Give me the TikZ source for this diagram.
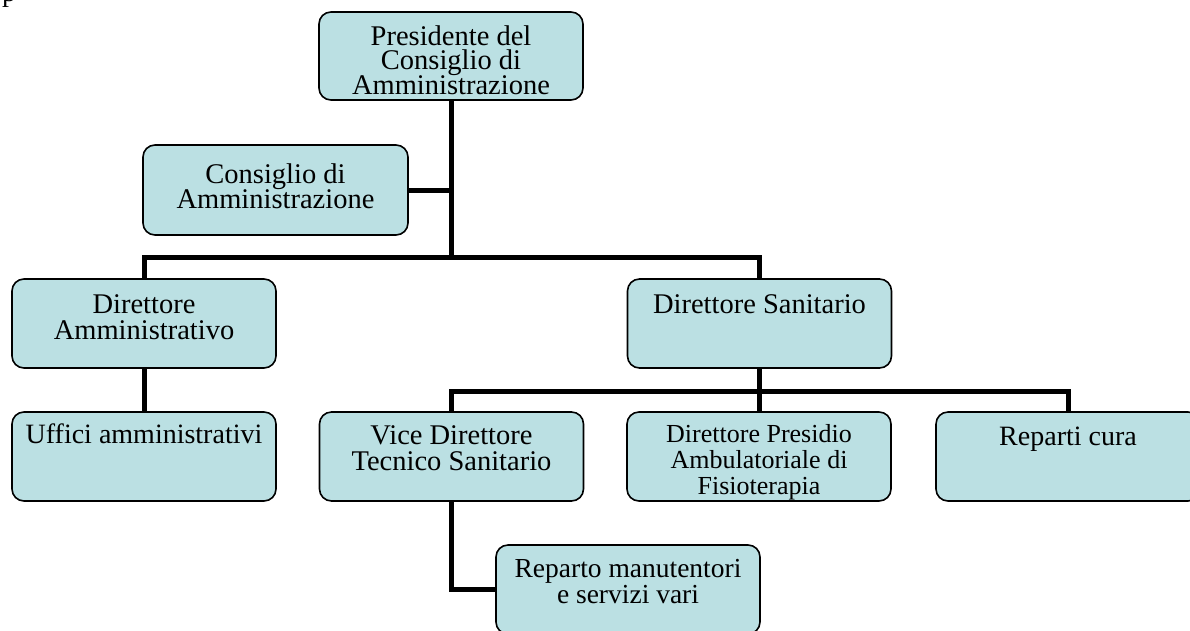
\documentclass[tikz,border=0pt]{standalone}
\usepackage{fontspec}
\setmainfont{Liberation Serif}
\definecolor{boxfill}{RGB}{187,224,227}
\newcommand\bxt[3]{\parbox[c][89pt][t]{264pt}{\centering\fontsize{#1}{26}\selectfont\lineskiplimit=-100pt\rule{0pt}{#2}#3\par}}
\begin{document}
\begin{tikzpicture}[x=1pt,y=-1pt,
  orgbox/.style={draw=black,line width=1.6pt,fill=boxfill,rounded corners=12pt,inner sep=0pt,outer sep=0pt},
  link/.style={line width=5pt,line join=miter,line cap=rect}]
\useasboundingbox (0,0) rectangle (1190,630);
\node[anchor=base west,inner sep=0pt,font=\fontsize{28}{30}\selectfont] (stray) at (2,1) {p};
% coordinates for junctions
\coordinate (j1) at (451,257);
\coordinate (j1l) at (144,257);
\coordinate (j1r) at (759.5,257);
\coordinate (j2) at (759.5,391);
\coordinate (j2l) at (451.5,391);
\coordinate (j2r) at (1068,391);
\coordinate (j3) at (451.5,589.5);
% connectors drawn first
\draw[link] (451,100) -- (j1);
\draw[link] (j1l) -- (j1r);
\draw[link] (408,190) -- (451,190);
\draw[link] (j1l) -- (144,279);
\draw[link] (j1r) -- (759.5,279);
\draw[link] (144,368) -- (144,412);
\draw[link] (759.5,368) -- (j2);
\draw[link] (j2l) -- (j2r);
\draw[link] (j2l) -- (451.5,412);
\draw[link] (759,391) -- (759,412);
\draw[link] (j2r) -- (1068,412);
\draw[link] (451.5,501) -- (j3) -- (496,589.5);
% boxes
\node[orgbox] (pres) at (451,56) {\parbox[c][88pt][t]{264pt}{\centering\fontsize{28.5}{24.8}\selectfont\lineskiplimit=-100pt\rule{0pt}{33pt}Presidente del\\Consiglio di\\Amministrazione\par}};
\node[orgbox] (cons) at (275.5,190) {\parbox[c][90pt][t]{265pt}{\centering\fontsize{28.5}{25}\selectfont\lineskiplimit=-100pt\rule{0pt}{38pt}Consiglio di\\Amministrazione\par}};
\node[orgbox] (da) at (144,323.5) {\bxt{28.5}{34pt}{Direttore\\Amministrativo}};
\node[orgbox] (ds) at (759.5,323.5) {\bxt{28.5}{34pt}{Direttore Sanitario}};
\node[orgbox] (uff) at (144,456.5) {\bxt{28}{31pt}{Uffici amministrativi}};
\node[orgbox] (vice) at (451.5,456.5) {\bxt{28.5}{32pt}{Vice Direttore\\Tecnico Sanitario}};
\node[orgbox] (presidio) at (759,456.5) {\bxt{26}{30pt}{Direttore Presidio\\Ambulatoriale di\\Fisioterapia}};
\node[orgbox] (rep) at (1068,456.5) {\bxt{28}{33pt}{Reparti cura}};
\node[orgbox] (man) at (628,589.5) {\bxt{27.5}{32pt}{Reparto manutentori\\e servizi vari}};
\end{tikzpicture}
\end{document}
